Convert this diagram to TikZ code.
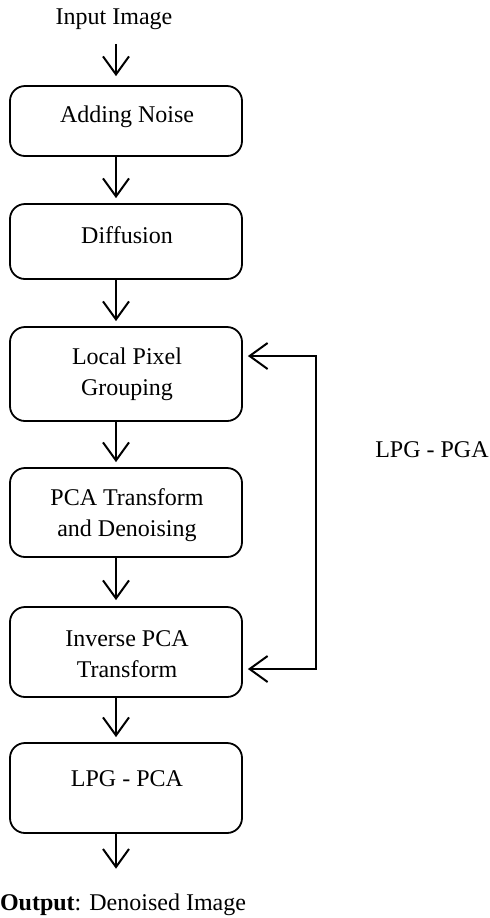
\documentclass[tikz,border=0pt]{standalone}
\usepackage{fontspec}
\setmainfont{Liberation Serif}
\usetikzlibrary{arrows.meta}

\tikzset{
  barb/.tip={Straight Barb[length=9pt,width=13pt]},
  blk/.style={draw, line width=0.9pt, rounded corners=7.5pt, minimum width=116pt, inner sep=0pt},
  txt/.style={font=\fontsize{12}{15.5}\selectfont, align=center, inner sep=0pt},
  arr/.style={-barb, line width=1pt},
}

\begin{document}
\begin{tikzpicture}[x=0.5pt,y=0.5pt,yscale=-1,xscale=1]
\useasboundingbox (0,0) rectangle (489,918);

%Blocks
\node[blk, minimum height=35pt] (noise) at (126,121) {};
\node[blk, minimum height=37.5pt] (diff) at (126,241.5) {};
\node[blk, minimum height=47pt] (lpg) at (126,374) {};
\node[blk, minimum height=44.5pt] (pca) at (126,512.5) {};
\node[blk, minimum height=45pt] (inv) at (126,652) {};
\node[blk, minimum height=45pt] (lpgpca) at (126,788) {};

% Text Node
\node[txt] (inp) at (114,19) {Input Image};
\node[txt] (noisetxt) at (127,117) {Adding Noise};
\node[txt] (difftxt) at (127,235) {Diffusion};
\node[txt] (lpgtxt) at (127,374) {Local Pixel\\Grouping};
\node[txt] (pcatxt) at (127,515.5) {PCA Transform\\and Denoising};
\node[txt] (invtxt) at (127,654) {Inverse PCA\\Transform};
\node[txt] (lpgpcatxt) at (127,779) {LPG - PCA};
\node[txt] (loop) at (432,450) {LPG - PGA};
\node[txt] (out) at (123,905) {\textbf{Output}: Denoised Image};

%Connectors
\coordinate (ax) at (116,0);
\draw[arr, shorten <=7pt, shorten >=4.5pt] (inp.south -| ax) -- (noise.north -| ax);
\draw[arr, shorten >=2.5pt] (noise.south -| ax) -- (diff.north -| ax);
\draw[arr, shorten >=2.5pt] (diff.south -| ax) -- (lpg.north -| ax);
\draw[arr, shorten >=2.5pt] (lpg.south -| ax) -- (pca.north -| ax);
\draw[arr, shorten >=3pt] (pca.south -| ax) -- (inv.north -| ax);
\draw[arr, shorten >=2.5pt] (inv.south -| ax) -- (lpgpca.north -| ax);
\draw[arr, shorten >=12.5pt] (lpgpca.south -| ax) -- (out.north -| ax);

%Feedback loop
\coordinate (fbt) at (316,356);
\coordinate (fbb) at (316,669);
\draw[barb-barb, line width=1pt, shorten <=2.5pt, shorten >=2.5pt] (fbt -| lpg.east) -- (fbt) -- (fbb) -- (fbb -| inv.east);
\end{tikzpicture}
\end{document}
